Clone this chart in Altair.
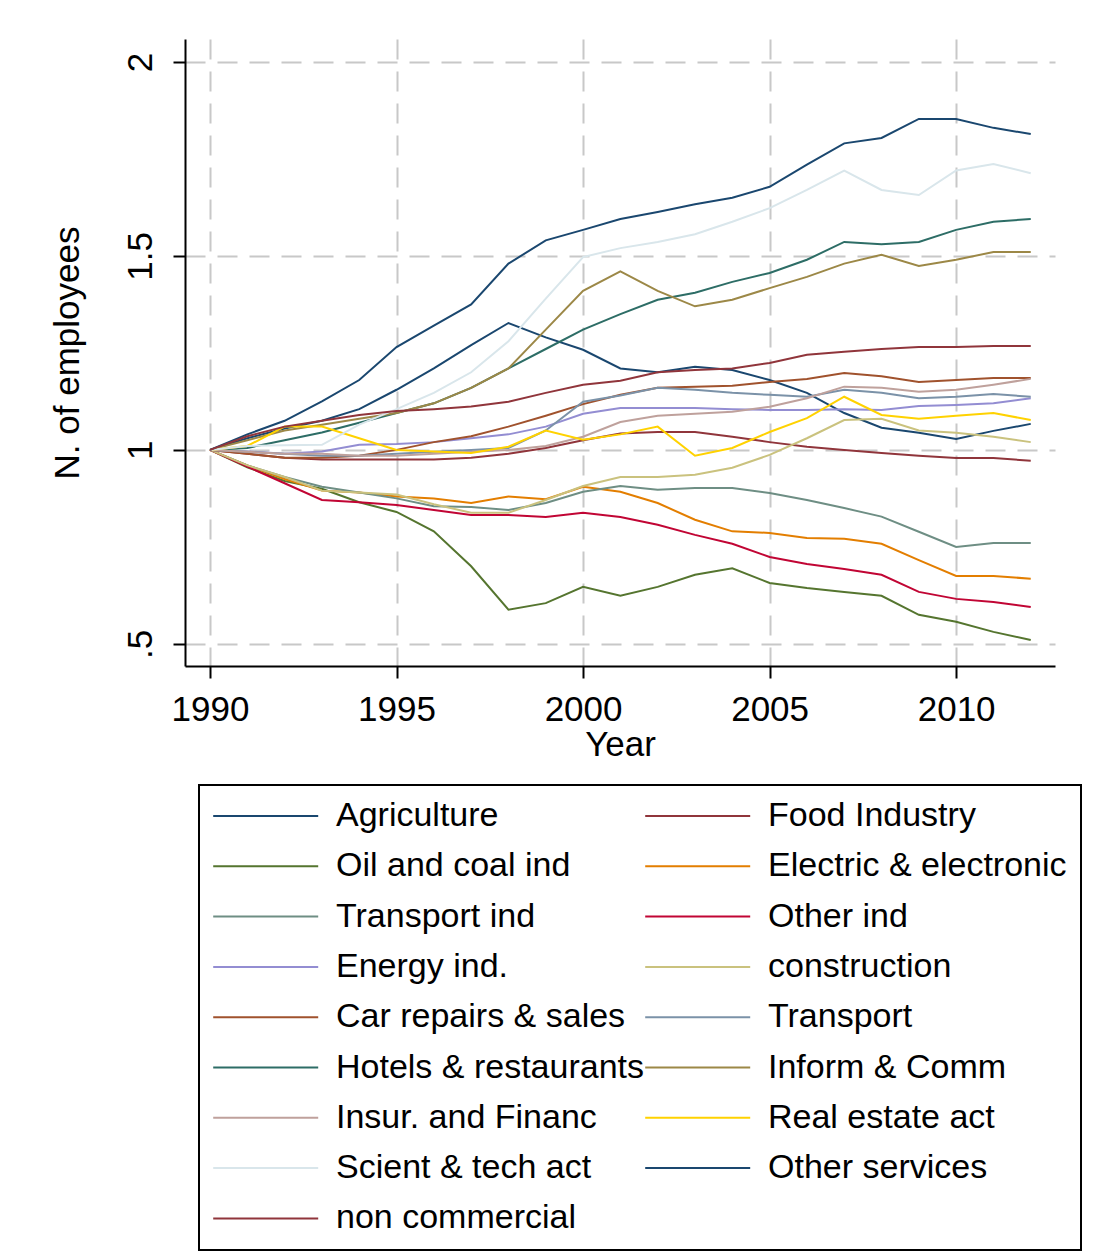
import altair as alt
import pandas as pd

years = list(range(1990, 2013))

names = [
    "Agriculture", "Food Industry", "Oil and coal ind", "Electric & electronic",
    "Transport ind", "Other ind", "Energy ind.", "construction",
    "Car repairs & sales", "Transport", "Hotels & restaurants", "Inform & Comm",
    "Insur. and Financ", "Real estate act", "Scient & tech act", "Other services",
    "\u00a0non commercial",
]

colors = [
    "#1a476f", "#90353b", "#55752f", "#e37e00", "#6e8e84", "#c10534",
    "#938dd2", "#cac27e", "#a0522d", "#7b92a8", "#2d6d66", "#9c8847",
    "#bfa19c", "#ffd200", "#d9e6eb", "#1a476f", "#90353b",
]

agriculture = [1.0, 1.03, 1.055, 1.075, 1.105, 1.155, 1.21, 1.27, 1.327, 1.29, 1.258, 1.21,
               1.20, 1.214, 1.206, 1.18, 1.147, 1.095, 1.057, 1.044, 1.028, 1.049, 1.067]
food_industry = [1.0, 0.99, 0.98, 0.975, 0.975, 0.975, 0.975, 0.98, 0.99, 1.005, 1.025, 1.042,
                 1.046, 1.046, 1.034, 1.02, 1.008, 1.0, 0.992, 0.985, 0.979, 0.979, 0.972]
oil_coal = [1.0, 0.955, 0.92, 0.90, 0.865, 0.84, 0.79, 0.70, 0.588, 0.605, 0.647, 0.624,
            0.647, 0.678, 0.695, 0.657, 0.644, 0.634, 0.624, 0.575, 0.557, 0.531, 0.51]
electric = [1.0, 0.96, 0.925, 0.895, 0.89, 0.88, 0.875, 0.863, 0.88, 0.873, 0.905, 0.892,
            0.863, 0.82, 0.79, 0.786, 0.773, 0.771, 0.758, 0.716, 0.675, 0.675, 0.668]
transport_ind = [1.0, 0.96, 0.93, 0.905, 0.89, 0.875, 0.855, 0.853, 0.845, 0.863, 0.892, 0.907,
                 0.897, 0.902, 0.902, 0.889, 0.871, 0.85, 0.828, 0.789, 0.75, 0.76, 0.76]
other_ind = [1.0, 0.957, 0.914, 0.871, 0.865, 0.858, 0.845, 0.832, 0.832, 0.827, 0.838, 0.827,
             0.807, 0.781, 0.758, 0.724, 0.706, 0.693, 0.678, 0.634, 0.616, 0.608, 0.595]
energy = [1.0, 0.996, 0.99, 0.996, 1.013, 1.015, 1.02, 1.03, 1.04, 1.06, 1.093, 1.108,
          1.108, 1.108, 1.105, 1.103, 1.103, 1.105, 1.103, 1.113, 1.116, 1.12, 1.133]
construction = [1.0, 0.96, 0.93, 0.895, 0.89, 0.885, 0.86, 0.838, 0.838, 0.871, 0.907, 0.93,
                0.93, 0.936, 0.954, 0.987, 1.03, 1.077, 1.08, 1.05, 1.044, 1.034, 1.02]
car_repairs = [1.0, 0.99, 0.98, 0.98, 0.985, 1.0, 1.02, 1.035, 1.06, 1.088, 1.118, 1.142,
               1.16, 1.163, 1.165, 1.175, 1.183, 1.198, 1.19, 1.175, 1.18, 1.185, 1.185]
transport = [1.0, 0.995, 0.99, 0.985, 0.985, 0.99, 0.995, 1.0, 1.005, 1.05, 1.124, 1.14,
             1.16, 1.155, 1.147, 1.142, 1.137, 1.155, 1.147, 1.133, 1.137, 1.144, 1.137]
hotels = [1.0, 1.005, 1.025, 1.045, 1.07, 1.095, 1.12, 1.16, 1.21, 1.26, 1.31, 1.35,
          1.387, 1.405, 1.433, 1.456, 1.49, 1.536, 1.53, 1.536, 1.567, 1.588, 1.595]
inform = [1.0, 1.025, 1.05, 1.065, 1.08, 1.095, 1.12, 1.16, 1.21, 1.31, 1.41, 1.46,
          1.41, 1.37, 1.387, 1.417, 1.446, 1.48, 1.503, 1.474, 1.49, 1.51, 1.51]
insur = [1.0, 0.995, 0.99, 0.99, 0.985, 0.985, 0.99, 0.995, 1.0, 1.01, 1.034, 1.072,
         1.088, 1.093, 1.098, 1.111, 1.133, 1.163, 1.16, 1.15, 1.155, 1.168, 1.183]
real_estate = [1.0, 1.01, 1.06, 1.06, 1.03, 1.0, 0.996, 0.992, 1.008, 1.05, 1.026, 1.04,
               1.06, 0.985, 1.005, 1.046, 1.082, 1.137, 1.09, 1.08, 1.088, 1.095, 1.077]
scient = [1.0, 1.01, 1.012, 1.013, 1.065, 1.105, 1.147, 1.2, 1.28, 1.39, 1.497, 1.52,
          1.536, 1.556, 1.588, 1.623, 1.67, 1.72, 1.67, 1.657, 1.72, 1.737, 1.713]
other_services = [1.0, 1.04, 1.075, 1.125, 1.18, 1.265, 1.32, 1.375, 1.48, 1.54, 1.567, 1.595,
                  1.613, 1.633, 1.65, 1.678, 1.735, 1.79, 1.804, 1.853, 1.853, 1.83, 1.814]
non_commercial = [1.0, 1.035, 1.06, 1.075, 1.09, 1.10, 1.105, 1.112, 1.124, 1.147, 1.168, 1.178,
                  1.20, 1.206, 1.21, 1.224, 1.245, 1.253, 1.26, 1.265, 1.265, 1.268, 1.268]

series = [agriculture, food_industry, oil_coal, electric, transport_ind, other_ind,
          energy, construction, car_repairs, transport, hotels, inform, insur,
          real_estate, scient, other_services, non_commercial]

rows = []
for i, (name, vals) in enumerate(zip(names, series)):
    for y, v in zip(years, vals):
        rows.append({"sector": name, "order": i, "year": y, "value": v})
df = pd.DataFrame(rows)

FONT = "Liberation Sans"

chart = alt.Chart(df).mark_line(strokeWidth=2).encode(
    x=alt.X(
        "year:Q",
        scale=alt.Scale(domain=[1989.33, 2012.65], nice=False, zero=False),
        axis=alt.Axis(values=[1990, 1995, 2000, 2005, 2010], format="d", title="Year",
                      labelPadding=14, titlePadding=0),
    ),
    y=alt.Y(
        "value:Q",
        scale=alt.Scale(domain=[0.443, 2.059], nice=False, zero=False),
        axis=alt.Axis(values=[0.5, 1, 1.5, 2],
                      labelExpr="datum.value == 0.5 ? '.5' : toString(datum.value)",
                      title="N. of employees", labelAngle=270, labelAlign="center",
                      labelBaseline="bottom", labelPadding=15, titlePadding=38),
    ),
    color=alt.Color(
        "sector:N",
        sort=names,
        scale=alt.Scale(domain=names, range=colors),
        legend=alt.Legend(
            title=None, orient="none", legendX=14, legendY=746, columns=2,
            direction="horizontal",
            symbolType="M-1.6,0H8.4", symbolSize=441, symbolStrokeWidth=2,
            labelFontSize=34, labelFont=FONT, labelColor="black", labelOffset=89,
            rowPadding=16.3, columnPadding=-10, padding=14,
            strokeColor="black", fillColor="white", labelLimit=400,
        ),
    ),
    order=alt.Order("order:Q"),
).properties(
    width=870, height=627,
    padding={"left": 42, "top": 31, "right": 0, "bottom": 0},
).configure_axis(
    labelFont=FONT, titleFont=FONT, labelFontSize=35, titleFontSize=35,
    labelColor="black", titleColor="black", titleFontWeight="normal",
    domainColor="black", domainWidth=2, tickColor="black", tickWidth=2, tickSize=12,
    grid=True, gridColor="#c8c8c8", gridDash=[20, 12], gridWidth=2,
).configure_view(stroke=None).configure_legend(strokeWidth=2)

chart.save("out.html", embed_options={"renderer": "svg", "actions": False})
